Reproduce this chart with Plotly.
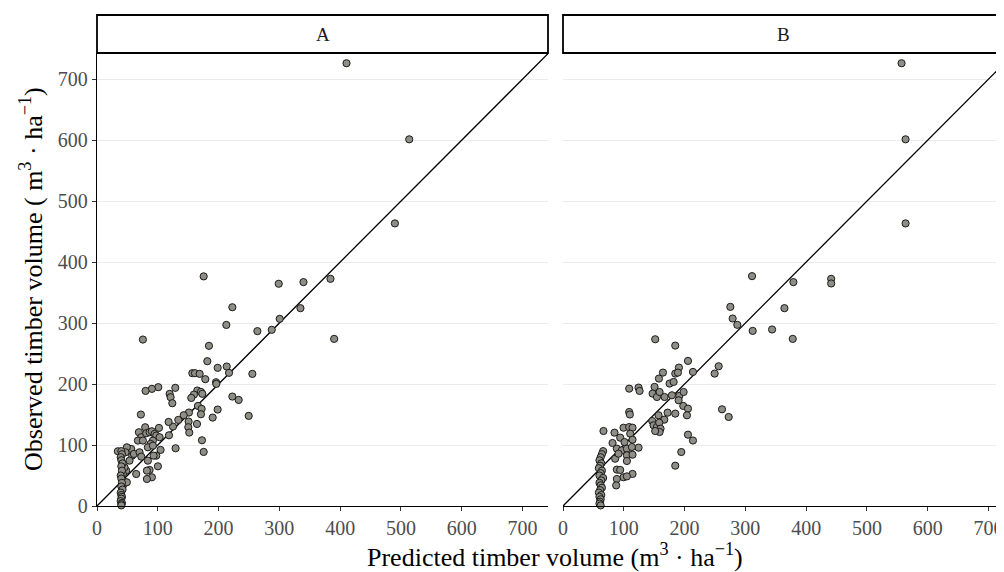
import plotly.graph_objects as go

# ---------------- data ----------------
# Panel A: predicted (x) vs observed (y)
a_pred = [175.5, 299, 222.7, 212.8, 263.9, 287.5, 300.6, 75.5, 184.2, 181.5,
          198.5, 213.4, 217.2, 255.6, 156.8, 161.2, 168.9, 178.2, 195.8, 196.3,
          222.7, 233.1, 249.6, 198.5, 190.3, 165, 159.5, 155.1, 171, 173.3,
          166.1, 172.1, 171, 164.5, 172.7, 175.5, 150.7, 150.2, 151.8, 151.3,
          142.6, 133.8, 125, 117.8, 118.4, 129.3, 128.8, 119.5, 121.1, 123.9,
          100.8, 90.3, 79.9, 72.2, 79.3,
          68.9, 72.8, 67.3, 75.5, 81, 86.5, 90.3, 94.7, 97.5, 101.9,
          103, 92, 88.1, 83.7, 92, 104.6, 97.5, 93.1, 83.7, 86.5,
          82.1, 90.3, 82.1, 100.2, 64.5, 56.3, 49.1, 46.9, 34.3, 57.9,
          53.5, 60.7, 70, 72.8, 48, 45.3, 42.6, 46.9, 42.6, 49.1,
          40, 41, 39, 40, 42, 40, 41, 39, 40, 41,
          40, 42, 39, 40, 41, 40, 39, 41, 40, 40,
          410.5, 513.7, 490.1, 339.7, 384.1, 334.7, 390.2]
a_obs = [376.6, 364.5, 326, 297, 286.8, 289, 307, 273, 262.7, 237.5,
         226.6, 228.8, 218.4, 216.7, 217.8, 217.8, 216.7, 208, 203, 200.3,
         179.5, 174, 147.8, 158.2, 145, 189.4, 182.8, 177.3, 187.2, 184,
         164.2, 159.3, 150.5, 134.6, 107.8, 88.7, 138.5, 129.2, 120.4, 153.3,
         148.9, 141.2, 130.3, 137.9, 116, 94.7, 193.8, 183.9, 178.4, 168.6,
         194.9, 192.1, 188.8, 150, 129.2,
         121, 112.8, 107.3, 107.3, 119.3, 121, 122.6, 118.2, 115.5, 128.1,
         112.8, 107.3, 101.8, 96.3, 99, 92, 82.6, 82.6, 74.4, 59.1,
         58, 47.1, 44.3, 65.1, 52.5, 93.6, 96.3, 88.1, 89.8, 82.6,
         74.4, 85.4, 88.1, 81, 58, 63.5, 52.5, 38.9, 33.4, 38.9,
         90, 85, 80, 75, 70, 65, 58, 50, 45, 38,
         32, 27, 22, 18, 15, 12, 8, 5, 3, 1,
         726.2, 601.4, 463.5, 367.2, 372.6, 324.5, 274.1]

# Panel B: predicted (x) vs observed (y)
b_pred = [311, 275.3, 279.1, 286.8, 312.1, 151.7, 184.7, 205.6, 190.7, 184.7,
          189.1, 164.4, 157.8, 175.4, 182, 213.8, 256.1, 249.5, 108.9, 124.3,
          126, 150.6, 147.4, 154.5, 167.1, 158.9, 179.2, 191.3, 198.4, 190.2,
          197.9, 205.6, 203.9, 184.7, 172.1, 157.2, 166.6, 146.8, 149, 154.5,
          158.3, 160.5, 158.9, 151.7, 261.6, 272.6, 205.6, 213.8, 194.6, 184.7,
          108.9, 110, 66.6, 84.7, 99.6, 108.9, 114.4, 81.5, 94.1, 101.2,
          110.6, 114.4, 124.3, 88.6, 96.8, 105.1, 113.3, 85.8, 105.1, 114.4,
          105.1, 91.3, 88.6, 94.1, 99.6, 88.6, 114.4, 105.1, 87.5,
          66, 64, 62, 60, 63, 61, 59, 64, 62, 60,
          66, 63, 60, 62, 64, 61, 59, 63, 60, 62, 61, 60, 62,
          557, 563.6, 563.6, 379.1, 441.2, 441.2, 364.3, 344, 378]
b_obs = [377, 326.6, 307.5, 297.1, 287.2, 273.5, 263.1, 238, 227, 217.2,
         218.8, 218.8, 209, 200.8, 203.5, 219.9, 229.2, 217.2, 192.5, 194.2,
         188.7, 195.3, 184.3, 178.8, 178.8, 187, 181.6, 180.5, 187, 173.4,
         164.1, 159.7, 148.8, 151.5, 153.1, 148.8, 141.6, 139.4, 132.3, 129.6,
         136.7, 126.8, 121.4, 123, 158.6, 146, 117, 107.4, 88.5, 66.1,
         154.2, 150.1, 123, 120.3, 128.4, 129.5, 128.4, 103.3, 112.1, 104.9,
         118.6, 108.8, 95.7, 94.1, 91.3, 94.1, 96.8, 77.6, 83.1, 84.2,
         73.8, 85.8, 59.7, 59.1, 47.1, 44.3, 52.6, 48.6, 33.8,
         90, 85, 80, 75, 70, 66, 62, 58, 54, 50,
         46, 42, 38, 34, 30, 26, 22, 18, 15, 11, 7, 4, 1,
         726.2, 601.4, 463.5, 367.2, 372.6, 365, 324.5, 289.5, 274.1]

panel_labels = ["A", "B"]
tick_vals = [0, 100, 200, 300, 400, 500, 600, 700]
line_ref = [0, 800]

x_title = "Predicted timber volume (m<sup>3</sup> · ha<sup>−1</sup>)"
y_title = "Observed timber volume ( m<sup>3</sup> · ha<sup>−1</sup>)"

# ---------------- figure ----------------
FONT = "Liberation Serif, Times New Roman, serif"
fig = go.Figure()

marker = dict(size=7.2, color="#8e8e86", line=dict(color="#1a1a1a", width=1))

for xs, ys, xa, ya in [(a_pred, a_obs, "x", "y"), (b_pred, b_obs, "x2", "y2")]:
    fig.add_trace(go.Scatter(x=line_ref, y=line_ref, mode="lines",
                             line=dict(color="black", width=1.3),
                             xaxis=xa, yaxis=ya, showlegend=False, hoverinfo="skip"))
    fig.add_trace(go.Scatter(x=xs, y=ys, mode="markers", marker=marker,
                             xaxis=xa, yaxis=ya, showlegend=False, cliponaxis=False))

# page body has an 8px margin; figure size/margins compensate for it
OFF = 8
W, H = 1004 - OFF, 572 - OFF
PX0, PX1, PY0, PY1 = 97, 1004, 53, 506          # plot area in page pixels
L, R, T, B = PX0 - OFF, 0, PY0 - OFF, 572 - PY1
pw = PX1 - PX0
ph = PY1 - PY0

domA = [0, 451 / pw]
domB = [(563 - PX0) / pw, 1]
scale = 451 / 742.0
rangeB = (PX1 - 563) / scale

axis_common = dict(showgrid=False, zeroline=False, showline=True, linecolor="black",
                   linewidth=1.4, ticks="outside", ticklen=4, tickcolor="#333333",
                   tickwidth=1.2, tickvals=tick_vals,
                   tickfont=dict(family=FONT, size=20, color="#4d4d4d"))

fig.update_layout(
    width=W, height=H,
    margin=dict(l=L, r=R, t=T, b=B),
    paper_bgcolor="white", plot_bgcolor="white",
    xaxis=dict(domain=domA, range=[0, 742], anchor="y", **axis_common),
    xaxis2=dict(domain=domB, range=[0, rangeB], anchor="y2", **axis_common),
    yaxis=dict(domain=[0, 1], range=[0, 743], anchor="x",
               **{**axis_common, "showgrid": True, "gridcolor": "#ebebeb", "gridwidth": 1.3}),
    yaxis2=dict(domain=[0, 1], range=[0, 743], anchor="x2", showgrid=True,
                gridcolor="#ebebeb", gridwidth=1.3, zeroline=False, showline=False,
                showticklabels=False, ticks="", tickvals=tick_vals),
    showlegend=False,
)

# strips
strip_top = 1 + (PY0 - 15) / ph
for lab, dom in zip(panel_labels, [domA, domB]):
    fig.add_shape(type="rect", xref="paper", yref="paper",
                  x0=dom[0], x1=dom[1], y0=1, y1=strip_top,
                  line=dict(color="black", width=1.8), fillcolor="white", layer="above")
    fig.add_annotation(xref="paper", yref="paper", x=(dom[0] + dom[1]) / 2,
                       y=(1 + strip_top) / 2, text=lab, showarrow=False,
                       font=dict(family=FONT, size=19, color="#1a1a1a"),
                       xanchor="center", yanchor="middle")

fig.add_annotation(xref="paper", yref="paper", x=(555 - PX0) / pw, y=-(555 - PY1) / ph,
                   text=x_title, showarrow=False, xanchor="center", yanchor="middle",
                   font=dict(family=FONT, size=26, color="black"))
fig.add_annotation(xref="paper", yref="paper", x=(31 - PX0) / pw, y=(PY1 - 279) / ph,
                   text=y_title, showarrow=False, xanchor="center", yanchor="middle",
                   textangle=-90, font=dict(family=FONT, size=26, color="black"))

fig.write_html("out.html")
